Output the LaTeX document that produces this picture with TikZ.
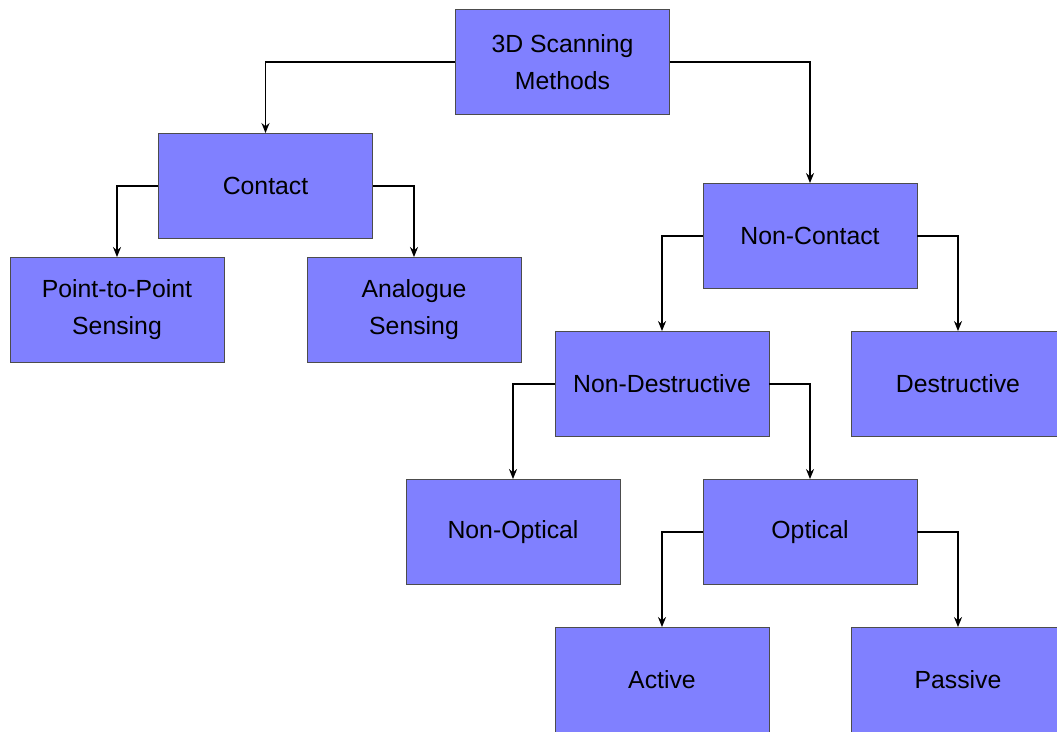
\documentclass[tikz,border=0pt]{standalone}
\usepackage{fontspec}
\setmainfont{Liberation Sans}
\usetikzlibrary{arrows.meta}
\begin{document}
\begin{tikzpicture}[x=1pt,y=-1pt,
 box/.style={draw=black!70, line width=0.9pt, fill=blue!50, minimum width=214pt, minimum height=105pt, align=center, font=\fontsize{24.8}{37}\selectfont, inner sep=0pt},
 conn/.style={line width=1.5pt, -{Stealth[length=10pt,width=8pt]}}]
\clip (0,0) rectangle (1057,731);
\fill[white] (0,0) rectangle (1057,731);
\node[box] (root) at (562.5,62) {3D Scanning\\Methods};
\node[box] (contact) at (265.5,186) {Contact};
\node[box] (p2p) at (117,310) {Point-to-Point\\Sensing};
\node[box] (analogue) at (414,310) {Analogue\\Sensing};
\node[box] (noncontact) at (810,236) {Non-Contact};
\node[box] (nondestr) at (662,384) {Non-Destructive};
\node[box] (destr) at (958,384) {Destructive};
\node[box] (nonopt) at (513,532) {Non-Optical};
\node[box] (optical) at (810,532) {Optical};
\node[box] (active) at (662,680) {Active};
\node[box] (passive) at (958,680) {Passive};
\draw[conn] (root.west) -| (contact.north);
\draw[conn] (root.east) -| (noncontact.north);
\draw[conn] (contact.west) -| (p2p.north);
\draw[conn] (contact.east) -| (analogue.north);
\draw[conn] (noncontact.west) -| (nondestr.north);
\draw[conn] (noncontact.east) -| (destr.north);
\draw[conn] (nondestr.west) -| (nonopt.north);
\draw[conn] (nondestr.east) -| (optical.north);
\draw[conn] (optical.west) -| (active.north);
\draw[conn] (optical.east) -| (passive.north);
\end{tikzpicture}
\end{document}
